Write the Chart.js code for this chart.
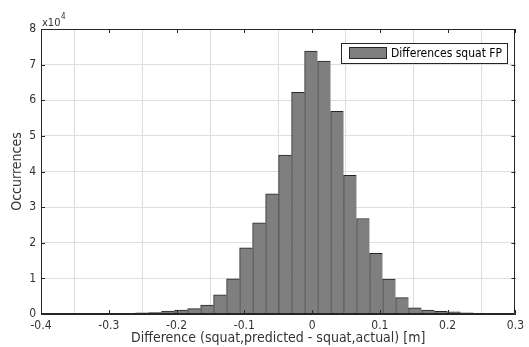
<!DOCTYPE html>
<html>
<head>
<meta charset="utf-8">
<script src="https://cdn.jsdelivr.net/npm/chart.js@4/dist/chart.umd.min.js"></script>
<style>
  html, body { margin: 0; padding: 0; background: #ffffff; }
  #wrap { width: 529px; height: 347px; }
</style>
</head>
<body>
<div id="wrap"><canvas id="c" width="529" height="347"></canvas></div>
<script>
// Bin centres (m)
const binCenters = [
  -0.2700, -0.2508, -0.2317, -0.2125, -0.1933, -0.1741, -0.1549, -0.1358,
  -0.1166, -0.0974, -0.0782, -0.0590, -0.0399, -0.0207, -0.0015, 0.0177,
  0.0369, 0.0560, 0.0752, 0.0944, 0.1136, 0.1328, 0.1519, 0.1711,
  0.1903, 0.2095, 0.2287, 0.2478, 0.2670, 0.2862
];
// Occurrences per bin
const occurrences = [
  200, 300, 400, 800, 1100, 1500, 2500, 5400,
  9900, 18600, 25600, 33700, 44600, 62200, 73800, 71000,
  56900, 38900, 26800, 17000, 9800, 4600, 1700, 1100,
  750, 600, 300, 200, 150, 100
];
const xTickValues = [-0.4, -0.3, -0.2, -0.1, 0, 0.1, 0.2, 0.3];
const yTickValues = [0, 10000, 20000, 30000, 40000, 50000, 60000, 70000, 80000];
const seriesName = 'Differences squat FP';
const xTitle = 'Difference (squat,predicted - squat,actual) [m]';
const yTitle = 'Occurrences';

const FONT = "'DejaVu Sans Condensed', 'DejaVu Sans', sans-serif";
const TXT = '#333333';
const AX = '#262626';

const points = binCenters.map((x, i) => ({ x: x, y: occurrences[i] }));

const boxPlugin = {
  id: 'boxPlugin',
  afterDraw(chart) {
    const { ctx, chartArea: a, scales } = chart;
    const xs = scales.x, ys = scales.y;
    ctx.save();
    ctx.strokeStyle = AX;
    ctx.lineWidth = 1;
    ctx.beginPath();
    ctx.rect(Math.round(a.left) + 0.5, Math.round(a.top) + 0.5,
             Math.round(a.right - a.left) - 1, Math.round(a.bottom - a.top) - 1);
    ctx.stroke();
    const tl = 4;
    ctx.beginPath();
    xTickValues.forEach(v => {
      const px = Math.round(xs.getPixelForValue(v)) + 0.5;
      ctx.moveTo(px, a.bottom); ctx.lineTo(px, a.bottom - tl);
      ctx.moveTo(px, a.top); ctx.lineTo(px, a.top + tl);
    });
    yTickValues.forEach(v => {
      const py = Math.round(ys.getPixelForValue(v)) + 0.5;
      ctx.moveTo(a.left, py); ctx.lineTo(a.left + tl, py);
      ctx.moveTo(a.right, py); ctx.lineTo(a.right - tl, py);
    });
    ctx.stroke();

    // exponent label
    ctx.fillStyle = TXT;
    ctx.textBaseline = 'alphabetic';
    ctx.textAlign = 'left';
    ctx.font = "11px " + FONT;
    ctx.fillText('x10', a.left + 1, 26);
    const w = ctx.measureText('x10').width;
    ctx.font = "8px " + FONT;
    ctx.fillText('4', a.left + 1 + w + 0.5, 19);

    // legend
    const lx = 341.5, ly = 43.5, lw = 166, lh = 20;
    ctx.fillStyle = '#ffffff';
    ctx.fillRect(lx, ly, lw, lh);
    ctx.strokeStyle = AX;
    ctx.strokeRect(lx, ly, lw, lh);
    ctx.fillStyle = '#7f7f7f';
    ctx.fillRect(349.5, 47.5, 37, 11);
    ctx.strokeStyle = '#262626';
    ctx.strokeRect(349.5, 47.5, 37, 11);
    ctx.fillStyle = '#000000';
    ctx.font = "12px " + FONT;
    ctx.textBaseline = 'middle';
    ctx.fillText(seriesName, 391, 53.5);
    ctx.restore();
  }
};

new Chart(document.getElementById('c'), {
  type: 'bar',
  data: {
    datasets: [{
      label: seriesName,
      data: points,
      backgroundColor: '#7f7f7f',
      borderColor: '#262626',
      borderWidth: (c) => c.dataIndex === points.length - 1
        ? { top: 1, left: 1, right: 1, bottom: 0 }
        : { top: 1, left: 1, right: 0, bottom: 0 },
      borderSkipped: false,
      barPercentage: 1,
      categoryPercentage: 1
    }]
  },
  options: {
    responsive: false,
    animation: false,
    devicePixelRatio: 1,
    layout: { padding: { top: 29, right: 10, left: 0, bottom: 0 } },
    plugins: { legend: { display: false }, tooltip: { enabled: false } },
    scales: {
      x: {
        type: 'linear',
        min: -0.4, max: 0.3,
        offset: false,
        afterBuildTicks: (s) => { s.ticks = xTickValues.map(v => ({ value: v })); },
        afterFit: (s) => { s.height = 33; },
        ticks: {
          color: TXT, font: { family: FONT, size: 12 }, padding: 5,
          maxRotation: 0, autoSkip: false,
          callback: (v) => String(Math.round(v * 10) / 10)
        },
        grid: { color: '#dedede', drawTicks: false, tickLength: 0 },
        border: { display: true, color: AX },
        title: {
          display: true, text: xTitle, color: TXT,
          font: { family: FONT, size: 14 }, padding: { top: 0, bottom: 0 }
        }
      },
      y: {
        min: 0, max: 80000,
        afterBuildTicks: (s) => { s.ticks = yTickValues.map(v => ({ value: v })); },
        afterFit: (s) => { s.width = 41; },
        ticks: {
          color: TXT, font: { family: FONT, size: 12 }, padding: 5,
          callback: (v) => String(v / 10000)
        },
        grid: { color: '#dedede', drawTicks: false, tickLength: 0 },
        border: { display: true, color: AX },
        title: {
          display: true, text: yTitle, color: TXT,
          font: { family: FONT, size: 14 }, padding: { top: 9, bottom: 0 }
        }
      }
    }
  },
  plugins: [boxPlugin]
});
</script>
</body>
</html>
